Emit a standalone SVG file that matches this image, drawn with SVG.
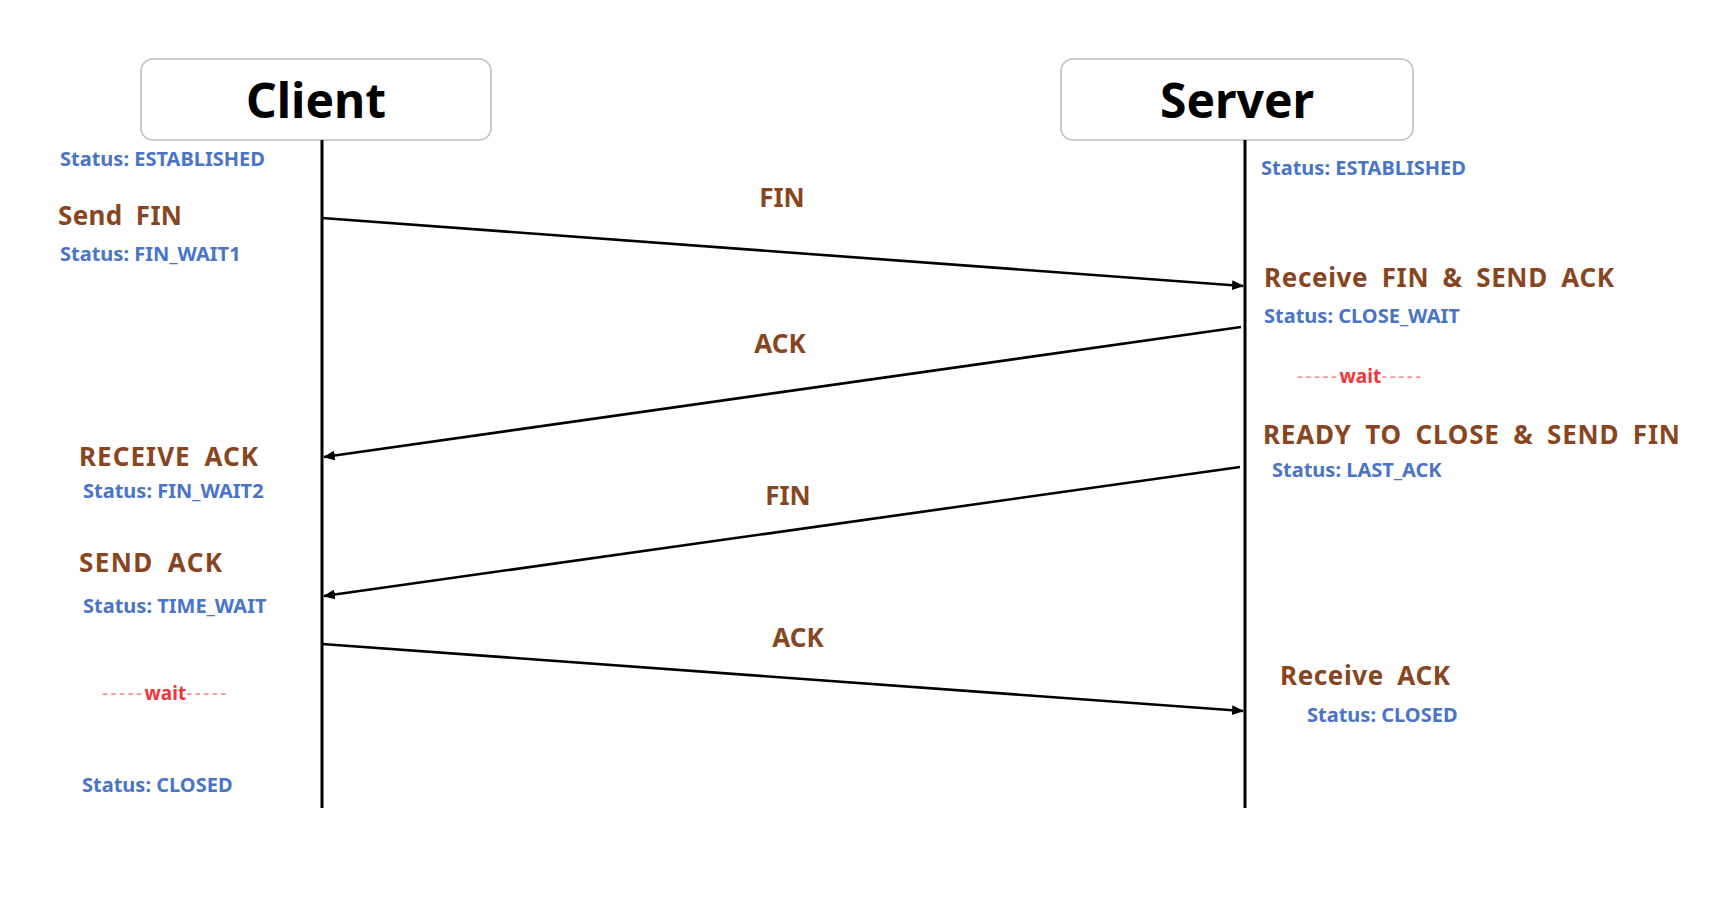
<svg xmlns="http://www.w3.org/2000/svg" width="1712" height="910" viewBox="0 0 1712 910">
<defs>
<marker id="arr" viewBox="0 0 12 10" refX="11" refY="5" markerWidth="12" markerHeight="10" markerUnits="userSpaceOnUse" orient="auto">
<path d="M0,0 L12,5 L0,10 Z" fill="#000"/>
</marker>
<style>
.box{fill:#fff;stroke:#bfbfbf;stroke-width:1.6}
.title{font-family:"Noto Sans","Open Sans",sans-serif;font-weight:bold;font-size:48px;fill:#000;text-anchor:middle}
.life{stroke:#000;stroke-width:3;fill:none}
.msg{stroke:#000;stroke-width:2.6;fill:none;marker-end:url(#arr)}
.st{font-family:"Noto Sans","Open Sans",sans-serif;font-weight:bold;font-size:20px;fill:#4a74c6}
.act{font-family:"Noto Sans","Open Sans",sans-serif;font-weight:bold;font-size:26px;fill:#87461f;word-spacing:6px}
.lbl{font-family:"Noto Sans","Open Sans",sans-serif;font-weight:bold;font-size:26px;fill:#87461f;text-anchor:middle}
.wait{font-family:"Noto Sans","Open Sans",sans-serif;font-weight:bold;font-size:19px;fill:#f0343a}
.dash{fill:#f58d8f;font-weight:normal;letter-spacing:2.4px}
</style>
</defs>
<rect width="1712" height="910" fill="#fff"/>
<g id="client">
<rect class="box" x="141" y="59" width="350" height="81" rx="12"/>
<text class="title" x="316" y="118">Client</text>
<line class="life" x1="322" y1="140" x2="322" y2="808"/>
</g>
<g id="server">
<rect class="box" x="1061" y="59" width="352" height="81" rx="12"/>
<text class="title" x="1237" y="118">Server</text>
<line class="life" x1="1245" y1="140" x2="1245" y2="808"/>
</g>
<g id="connectors">
<line class="msg" x1="322" y1="218" x2="1243" y2="286"/>
<line class="msg" x1="1241" y1="327" x2="324" y2="457"/>
<line class="msg" x1="1240" y1="467" x2="324" y2="596"/>
<line class="msg" x1="322" y1="644" x2="1243" y2="711"/>
</g>
<g id="labels">
<text class="lbl" x="782" y="207">FIN</text>
<text class="lbl" x="780" y="353">ACK</text>
<text class="lbl" x="788" y="505">FIN</text>
<text class="lbl" x="798" y="647">ACK</text>
</g>
<g id="client-states">
<text class="st" x="60" y="166">Status: ESTABLISHED</text>
<text class="act" x="58" y="225" textLength="124" lengthAdjust="spacing">Send FIN</text>
<text class="st" x="60" y="261">Status: FIN_WAIT1</text>
<text class="act" x="79" y="466" textLength="179" lengthAdjust="spacing">RECEIVE ACK</text>
<text class="st" x="83" y="498">Status: FIN_WAIT2</text>
<text class="act" x="79" y="572" textLength="143" lengthAdjust="spacing">SEND ACK</text>
<text class="st" x="83" y="613">Status: TIME_WAIT</text>
<text class="wait" x="102" y="700"><tspan class="dash">-----</tspan>wait<tspan class="dash">-----</tspan></text>
<text class="st" x="82" y="792">Status: CLOSED</text>
</g>
<g id="server-states">
<text class="st" x="1261" y="175">Status: ESTABLISHED</text>
<text class="act" x="1264" y="287" textLength="350" lengthAdjust="spacing">Receive FIN &amp; SEND ACK</text>
<text class="st" x="1264" y="323">Status: CLOSE_WAIT</text>
<text class="wait" x="1297" y="383"><tspan class="dash">-----</tspan>wait<tspan class="dash">-----</tspan></text>
<text class="act" x="1263" y="444" textLength="417" lengthAdjust="spacing">READY TO CLOSE &amp; SEND FIN</text>
<text class="st" x="1272" y="477">Status: LAST_ACK</text>
<text class="act" x="1280" y="685" textLength="170" lengthAdjust="spacing">Receive ACK</text>
<text class="st" x="1307" y="722">Status: CLOSED</text>
</g>
</svg>
